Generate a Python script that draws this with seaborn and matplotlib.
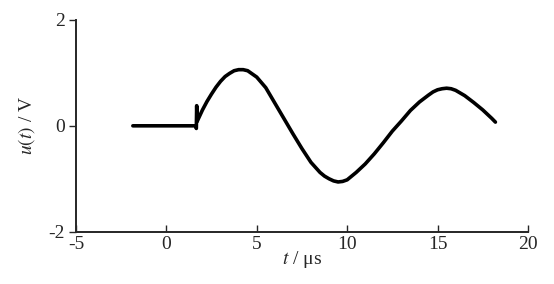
import matplotlib
matplotlib.use("Agg")
import matplotlib.pyplot as plt
import seaborn as sns
import pandas as pd

t_us = [-1.85, 1.62, 1.66, 1.68, 1.70, 2.0, 2.25, 2.5, 2.75, 3.0, 3.25, 3.5, 3.75, 4.0, 4.25,
        4.5, 5.0, 5.5, 6.0, 6.5, 7.0, 7.5, 8.0, 8.5, 8.75, 9.0, 9.25, 9.5, 9.75, 10.0,
        10.5, 11.0, 11.5, 12.0, 12.5, 13.0, 13.5, 14.0, 14.5, 14.75, 15.0, 15.25, 15.5,
        15.75, 16.0, 16.5, 17.0, 17.5, 18.0, 18.2]
u_v = [0.0, 0.0, -0.05, 0.38, 0.08, 0.30, 0.46, 0.60, 0.73, 0.84, 0.93, 0.99, 1.04, 1.06, 1.06,
       1.04, 0.92, 0.72, 0.43, 0.14, -0.15, -0.43, -0.69, -0.88, -0.95, -1.00, -1.04, -1.06, -1.05, -1.02,
       -0.88, -0.72, -0.53, -0.32, -0.10, 0.09, 0.29, 0.45, 0.58, 0.64, 0.68, 0.70, 0.71,
       0.70, 0.67, 0.57, 0.44, 0.30, 0.14, 0.07]
x_ticks = [-5, 0, 5, 10, 15, 20]
y_ticks = [-2, 0, 2]

sns.set_style("ticks")
plt.rcParams['font.family'] = ['Liberation Serif', 'DejaVu Serif']
plt.rcParams['mathtext.fontset'] = 'stix'

df = pd.DataFrame({"t": t_us, "u": u_v})

fig = plt.figure(figsize=(5.54, 2.84), dpi=100)
ax = fig.add_axes([0.137, 0.184, 0.816, 0.746])
sns.lineplot(data=df, x="t", y="u", ax=ax, color="black", linewidth=2.6,
             estimator=None, sort=False)
ax.lines[0].set_solid_joinstyle('round')

ax.set_xlim(-5, 20)
ax.set_ylim(-2, 2)
ax.set_xticks(x_ticks)
ax.set_yticks(y_ticks)
ax.set_xticklabels([str(v) for v in x_ticks], fontsize=14)
ax.set_yticklabels([str(v) for v in y_ticks], fontsize=14)
ax.tick_params(axis='x', direction='in', length=5, width=1, pad=3)
ax.tick_params(axis='y', direction='out', length=5, width=1, pad=3)
for s in ['top', 'right']:
    ax.spines[s].set_visible(False)
for s in ['left', 'bottom']:
    ax.spines[s].set_linewidth(1.4)
ax.set_xlabel(r"$t$ / μs", fontsize=14, labelpad=-3)
ax.set_ylabel(r"$u(t)$ / V", fontsize=14, labelpad=8)

fig.savefig("out.png", dpi=100)
